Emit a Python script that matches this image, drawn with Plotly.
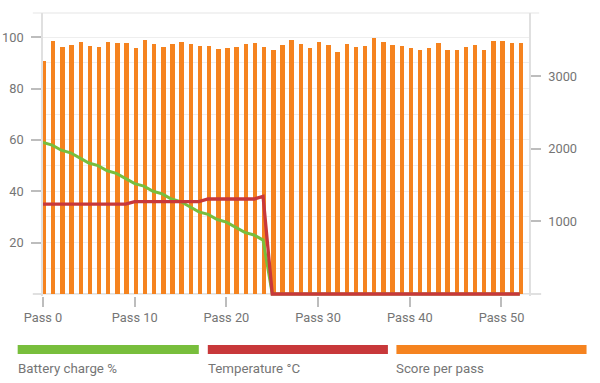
import plotly.graph_objects as go

passes = list(range(53))
tick_passes = [0, 10, 20, 30, 40, 50]
tick_labels = ["Pass 0", "Pass 10", "Pass 20", "Pass 30", "Pass 40", "Pass 50"]

battery = [59, 58, 56, 55, 53, 51, 50, 48, 47, 45, 43, 42, 40, 39, 37, 36, 34, 32, 31, 29,
           28, 26, 24, 23, 21, 0, 0, 0, 0, 0, 0, 0, 0, 0, 0, 0, 0, 0, 0, 0,
           0, 0, 0, 0, 0, 0, 0, 0, 0, 0, 0, 0, 0]
temperature = [35, 35, 35, 35, 35, 35, 35, 35, 35, 35, 36, 36, 36, 36, 36, 36, 36, 36, 37, 37,
               37, 37, 37, 37, 38, 0, 0, 0, 0, 0, 0, 0, 0, 0, 0, 0, 0, 0, 0, 0,
               0, 0, 0, 0, 0, 0, 0, 0, 0, 0, 0, 0, 0]
score = [3205, 3480, 3407, 3431, 3475, 3417, 3403, 3466, 3458, 3462, 3389, 3503, 3444, 3410,
         3448, 3476, 3439, 3424, 3421, 3377, 3391, 3404, 3451, 3465, 3403, 3366, 3437, 3503,
         3444, 3396, 3473, 3431, 3332, 3451, 3400, 3424, 3531, 3472, 3437, 3424, 3396, 3369,
         3393, 3455, 3362, 3366, 3398, 3437, 3362, 3480, 3492, 3455, 3462]

left_ticks = [20, 40, 60, 80, 100]
right_ticks = [1000, 2000, 3000]

GREEN = "#78BE3C"
RED = "#C8383A"
ORANGE = "#F5831F"
TXT = "#757575"
GRID = "#EEEEEE"
AXIS = "#E0E0E0"
FONT = "Roboto"

fig = go.Figure()
fig.add_trace(go.Bar(x=passes, y=score, marker=dict(color=ORANGE, line=dict(width=0)),
                     width=0.48, offset=-0.12, yaxis="y", showlegend=False, name="Score per pass"))
fig.add_trace(go.Scatter(x=passes, y=battery, mode="lines", line=dict(color=GREEN, width=3),
                         yaxis="y2", showlegend=False, name="Battery charge %"))
fig.add_trace(go.Scatter(x=passes, y=temperature, mode="lines", line=dict(color=RED, width=3.3),
                         yaxis="y2", showlegend=False, name="Temperature °C"))

shapes = [
    dict(type="line", xref="paper", yref="paper", x0=-0.021, x1=1.021, y0=1, y1=1,
         line=dict(color=GRID, width=1.5), layer="below"),
    dict(type="line", xref="paper", yref="y2", x0=-0.021, x1=1.025, y0=0, y1=0,
         line=dict(color=AXIS, width=2), layer="below"),
]
annotations = []
legend_items = [("Battery charge %", GREEN, -0.0521, 0.3206),
                ("Temperature °C", RED, 0.3391, 0.7097),
                ("Score per pass", ORANGE, 0.7272, 1.1184)]
for label, col, x0, x1 in legend_items:
    shapes.append(dict(type="rect", xref="paper", yref="paper", x0=x0, x1=x1,
                       y0=-0.2052, y1=-0.1733, fillcolor=col, line=dict(width=0)))
    annotations.append(dict(text=label, xref="paper", yref="paper", x=x0 - 0.004, y=-0.2565,
                            xanchor="left", yanchor="middle", showarrow=False,
                            font=dict(family=FONT, size=13.3, color=TXT)))

fig.update_layout(
    width=600, height=383,
    margin=dict(l=43, r=71, t=13, b=87, pad=0, autoexpand=False),
    paper_bgcolor="white", plot_bgcolor="white",
    font=dict(family=FONT, size=12.5, color=TXT),
    bargap=0,
    xaxis=dict(range=[0, 53], tickvals=tick_passes, ticktext=tick_labels, ticks="outside",
               ticklen=10, tickwidth=1.5, tickcolor="#BDBDBD", showgrid=False, zeroline=False,
               showline=False, automargin=False, tickfont=dict(family=FONT, size=12.8, color=TXT)),
    yaxis=dict(side="right", range=[-27.6, 3872], tickvals=right_ticks, ticks="outside",
               ticklen=10, tickwidth=1.5, tickcolor="#BDBDBD", showgrid=False, zeroline=False,
               showline=True, linecolor=AXIS, linewidth=1.5, ticklabelstandoff=5,
               automargin=False, tickfont=dict(family=FONT, size=12.8, color=TXT)),
    yaxis2=dict(side="left", overlaying="y", range=[-0.78, 109.44], tickvals=left_ticks,
                ticks="outside", ticklen=10, tickwidth=1.5, tickcolor="#BDBDBD",
                showgrid=True, gridcolor=GRID, gridwidth=1, zeroline=False,
                showline=True, linecolor=AXIS, linewidth=1.5, ticklabelstandoff=5,
                automargin=False,
                minor=dict(tick0=0, dtick=10, showgrid=True, gridcolor=GRID, gridwidth=1, ticks=""),
                tickfont=dict(family=FONT, size=12.8, color=TXT)),
    shapes=shapes,
    annotations=annotations,
)

fig.write_html("out.html", config={"displayModeBar": False},
               post_script="document.body.style.margin='0';document.body.style.overflow='hidden';")
